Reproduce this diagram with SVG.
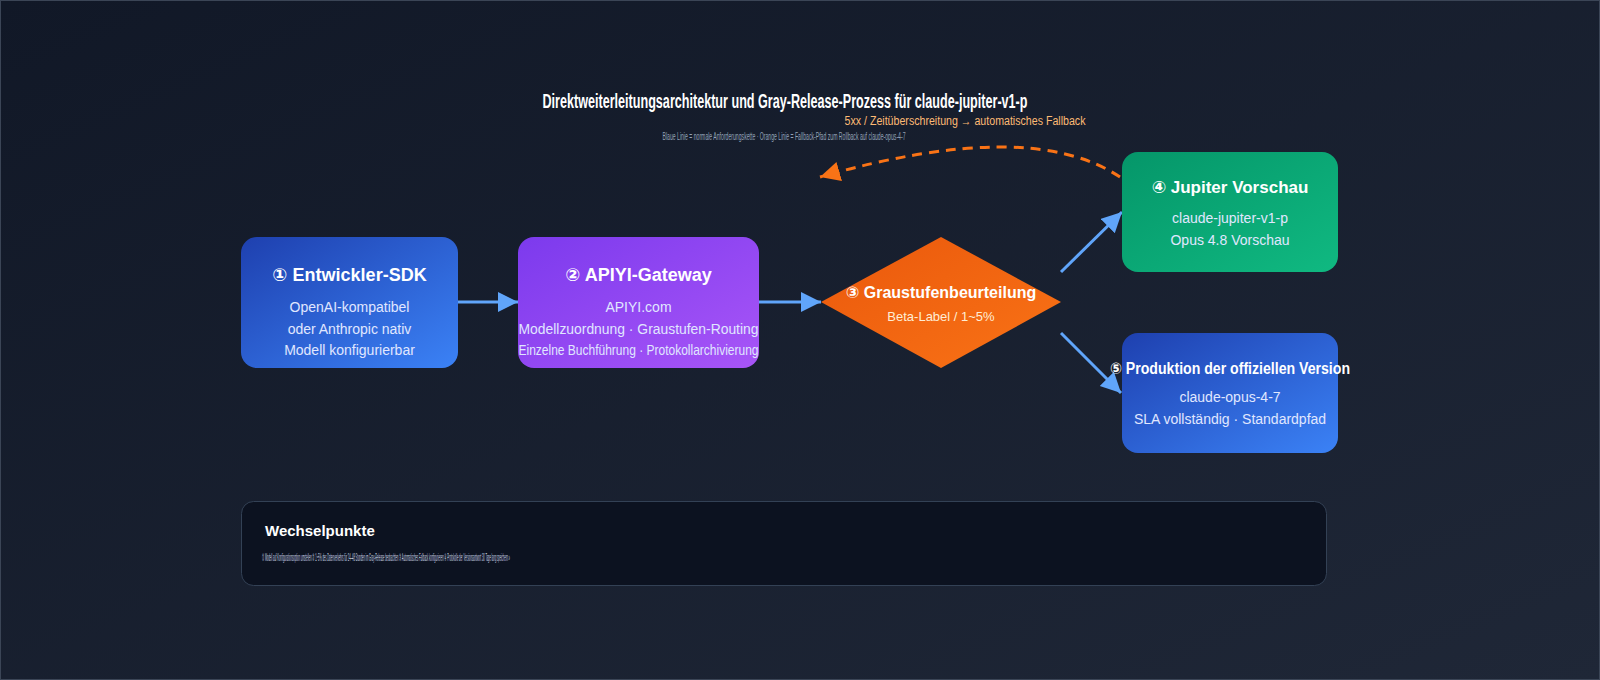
<svg xmlns="http://www.w3.org/2000/svg" width="1600" height="680" viewBox="0 0 1600 680">
<defs>
<linearGradient id="bg" x1="0" y1="0" x2="1" y2="1"><stop offset="0" stop-color="#111827"/><stop offset="1" stop-color="#1f2737"/></linearGradient>
<linearGradient id="gBlue" x1="0" y1="0" x2="1" y2="1"><stop offset="0" stop-color="#1e40af"/><stop offset="1" stop-color="#3b82f6"/></linearGradient>
<linearGradient id="gPurple" x1="0" y1="0" x2="1" y2="1"><stop offset="0" stop-color="#7c3aed"/><stop offset="1" stop-color="#a855f7"/></linearGradient>
<linearGradient id="gOrange" x1="0" y1="0" x2="1" y2="1"><stop offset="0" stop-color="#ea580c"/><stop offset="1" stop-color="#f97316"/></linearGradient>
<linearGradient id="gGreen" x1="0" y1="0" x2="1" y2="1"><stop offset="0" stop-color="#059669"/><stop offset="1" stop-color="#10b981"/></linearGradient>
<marker id="aBlue" markerUnits="userSpaceOnUse" markerWidth="22" markerHeight="22" refX="20" refY="10" orient="auto"><path d="M0,0 L20,10 L0,20 Z" fill="#60a5fa"/></marker>
<marker id="aOrange" markerUnits="userSpaceOnUse" markerWidth="22" markerHeight="22" refX="20" refY="10" orient="auto"><path d="M0,0 L20,10 L0,20 Z" fill="#f97316"/></marker>
</defs>
<style>
text{font-family:"Liberation Sans",Arial,"DejaVu Sans",sans-serif;text-anchor:middle}
.t{font-weight:bold;fill:#ffffff}
.s{fill:#e0e7ff;font-size:14px}
.conn{stroke:#60a5fa;stroke-width:3;fill:none;marker-end:url(#aBlue)}
.fb{stroke:#f97316;stroke-width:3;fill:none;stroke-dasharray:10 7;marker-end:url(#aOrange)}
</style>
<rect x="0" y="0" width="1600" height="680" fill="url(#bg)"/>
<rect x="0.5" y="0.5" width="1599" height="679" fill="none" stroke="#3b4556" stroke-width="1"/>
<g id="title">
<text x="785" y="108" class="t" font-size="20" textLength="485" lengthAdjust="spacingAndGlyphs">Direktweiterleitungsarchitektur und Gray-Release-Prozess für claude-jupiter-v1-p</text>
<text x="784" y="140" font-size="10" fill="#94a3b8" textLength="243" lengthAdjust="spacingAndGlyphs">Blaue Linie = normale Anforderungskette · Orange Linie = Fallback-Pfad zum Rollback auf claude-opus-4-7</text>
</g>
<g id="connectors">
<line x1="458" y1="302" x2="518" y2="302" class="conn"/>
<line x1="759" y1="302" x2="821" y2="302" class="conn"/>
<line x1="1061" y1="272" x2="1122" y2="212" class="conn"/>
<line x1="1061" y1="333" x2="1121" y2="393" class="conn"/>
<path d="M1120,177 Q1030,117 820,177" class="fb"/>
<text x="965" y="125" font-size="12" fill="#fdba74" textLength="241" lengthAdjust="spacingAndGlyphs">5xx / Zeitüberschreitung → automatisches Fallback</text>
</g>
<g id="node1">
<rect x="241" y="237" width="217" height="131" rx="16" fill="url(#gBlue)"/>
<text x="349.5" y="281" class="t" font-size="18">① Entwickler-SDK</text>
<text x="349.5" y="312" class="s">OpenAI-kompatibel</text>
<text x="349.5" y="334" class="s">oder Anthropic nativ</text>
<text x="349.5" y="355" class="s">Modell konfigurierbar</text>
</g>
<g id="node2">
<rect x="518" y="237" width="241" height="131" rx="16" fill="url(#gPurple)"/>
<text x="638.5" y="281" class="t" font-size="18">② APIYI-Gateway</text>
<text x="638.5" y="312" class="s">APIYI.com</text>
<text x="638.5" y="334" class="s" textLength="240" lengthAdjust="spacingAndGlyphs">Modellzuordnung · Graustufen-Routing</text>
<text x="638.5" y="355" class="s" font-size="13" textLength="240" lengthAdjust="spacingAndGlyphs">Einzelne Buchführung · Protokollarchivierung</text>
</g>
<g id="node3">
<polygon points="941,237 1061,302 941,368 821,302" fill="url(#gOrange)"/>
<text x="941" y="298" class="t" font-size="16">③ Graustufenbeurteilung</text>
<text x="941" y="321" fill="#ffedd5" font-size="13">Beta-Label / 1~5%</text>
</g>
<g id="node4">
<rect x="1122" y="152" width="216" height="120" rx="16" fill="url(#gGreen)"/>
<text x="1230" y="193" class="t" font-size="17">④ Jupiter Vorschau</text>
<text x="1230" y="223" class="s" fill="#d1fae5">claude-jupiter-v1-p</text>
<text x="1230" y="245" class="s" fill="#d1fae5">Opus 4.8 Vorschau</text>
</g>
<g id="node5">
<rect x="1122" y="333" width="216" height="120" rx="16" fill="url(#gBlue)"/>
<text x="1230" y="374" class="t" font-size="16" textLength="240" lengthAdjust="spacingAndGlyphs">⑤ Produktion der offiziellen Version</text>
<text x="1230" y="402" class="s">claude-opus-4-7</text>
<text x="1230" y="424" class="s">SLA vollständig · Standardpfad</text>
</g>
<g id="notes">
<rect x="241.5" y="501.5" width="1085" height="84" rx="12" fill="#0c1220" stroke="#334155" stroke-width="1"/>
<text x="265" y="536" class="t" font-size="15" style="text-anchor:start">Wechselpunkte</text>
<text x="262" y="561" font-size="10" fill="#cbd5e1" style="text-anchor:start" textLength="248" lengthAdjust="spacingAndGlyphs">① Modell auf Konfigurationsoption umstellen ② 1~5% des Datenverkehrs für 24–48 Stunden im Gray-Release beobachten ③ Automatisches Fallback konfigurieren ④ Protokolle der Versionsantwort 30 Tage lang speichern »</text>
</g>
</svg>
